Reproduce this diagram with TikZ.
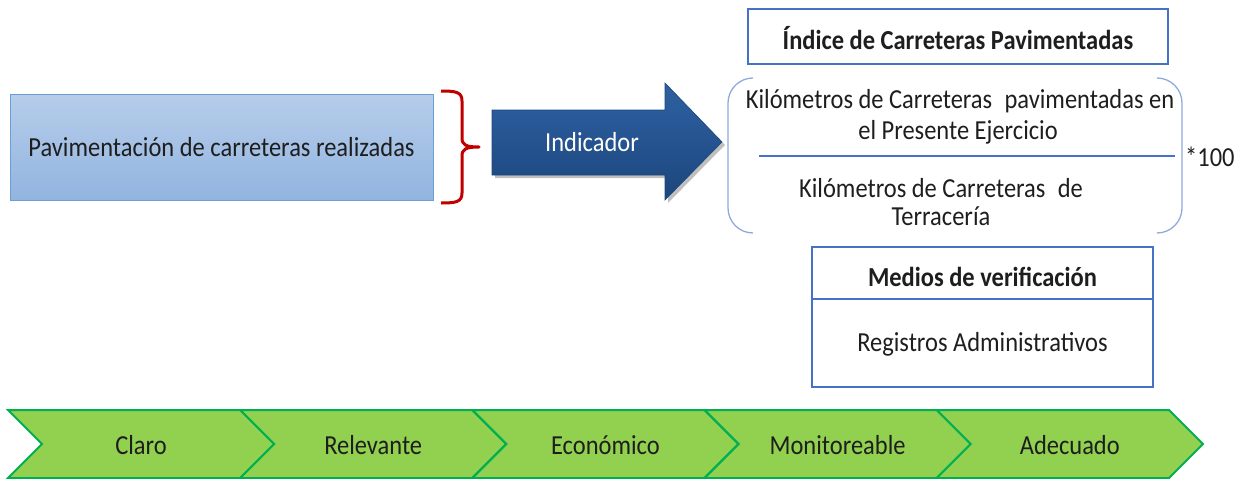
\documentclass[tikz,border=0pt]{standalone}
\usepackage{fontspec}
\setmainfont{Carlito}[FakeStretch=0.89]
\usetikzlibrary{shadows}
\definecolor{txt}{HTML}{1E1E1E}
\definecolor{lboxA}{HTML}{B6CDEA}
\definecolor{lboxB}{HTML}{92B4E0}
\definecolor{lboxline}{HTML}{6A9FD6}
\definecolor{bracered}{HTML}{C00000}
\definecolor{arrowA}{HTML}{2E61A3}
\definecolor{arrowB}{HTML}{1C467C}
\definecolor{boxline}{HTML}{4472C4}
\definecolor{bracketline}{HTML}{8EAADC}
\definecolor{chevfill}{HTML}{92D050}
\definecolor{chevline}{HTML}{00B050}
\tikzset{
  every node/.style={font=\fontsize{27.5}{32}\selectfont, text=txt, inner sep=0pt},
  lbox/.style={draw=lboxline, line width=1pt, top color=lboxA, bottom color=lboxB},
  tbox/.style={draw=boxline, line width=1.1pt},
  chevron/.style={fill=chevfill, draw=chevline, line width=2pt, line join=miter},
}
\begin{document}
\begin{tikzpicture}[x=1pt,y=-1pt]
\useasboundingbox (0,0) rectangle (1243,479);
% left box
\node (src) [lbox, minimum width=423pt, minimum height=106pt] at (221.5,147) {Pavimentación de carreteras realizadas};
% brace
\draw[bracered, line width=3pt, line cap=butt, line join=round]
  (441,91) .. controls (456,91) and (462,92) .. (462,101) -- (462,138)
  .. controls (462,145) and (466,147) .. (479,147)
  .. controls (466,147) and (462,149) .. (462,156) -- (462,193)
  .. controls (462,202) and (456,203) .. (441,203);
% arrow
\fill[black, opacity=0.25] (495,113) -- (668,113) -- (668,86) -- (725,145) -- (668,203) -- (668,178) -- (495,178) -- cycle;
\path[top color=arrowA, bottom color=arrowB, draw=arrowB, line width=0.6pt]
  (492,110) -- (665,110) -- (665,83) -- (722,142) -- (665,200) -- (665,175) -- (492,175) -- cycle;
\node (ind) [text=white] at (592,142) {Indicador};
% title
\node (title) [tbox, minimum width=420pt, minimum height=55pt] at (958,36.5) {};
\node (titletext) at (958,38) {\bfseries Índice de Carreteras Pavimentadas};
% bracket pair
\draw[bracketline, line width=1.3pt, rounded corners=25pt] (753,78) -- (728,78) -- (728,233) -- (753,233);
\draw[bracketline, line width=1.3pt, rounded corners=25pt] (1157,78) -- (1182,78) -- (1182,233) -- (1157,233);
\node (num1) at (960,101) {Kilómetros de Carreteras\hspace{0.45em}pavimentadas en};
\node (num2) at (958,132) {el Presente Ejercicio};
\coordinate (fl) at (759,156);
\coordinate (fr) at (1175,156);
\draw[boxline, line width=1.1pt] (fl) -- (fr);
\node (den1) at (941,188) {Kilómetros de Carreteras\hspace{0.45em}de};
\node (den2) at (941,216) {Terracería};
\node (times) [anchor=west] at (1185,157) {*100};
% medios
\node (mt) [tbox, minimum width=341pt, minimum height=52pt] at (982.5,273) {};
\node (mtt) at (982.5,277) {\bfseries Medios de verificación};
\node (mb) [tbox, minimum width=341pt, minimum height=88pt] at (982.5,343) {};
\node (mbt) at (982.5,344) {Registros Administrativos};
% chevrons
\foreach \t [count=\i from 0] in {Claro,Relevante,Económico,Monitoreable,Adecuado} {
  \pgfmathsetmacro\L{8+232.2*\i}
  \draw[chevron] (\L,410) -- ({\L+232.2},410) -- ({\L+266.2},444) -- ({\L+232.2},478) -- (\L,478) -- ({\L+34},444) -- cycle;
  \node (c\i) at ({\L+133},445) {\t};
}
\end{tikzpicture}
\end{document}
